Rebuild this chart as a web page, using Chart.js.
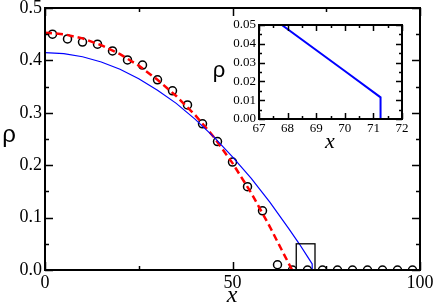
<!DOCTYPE html>
<html>
<head>
<meta charset="utf-8">
<script src="https://cdn.jsdelivr.net/npm/chart.js@4"></script>
<style>
  html, body { margin: 0; padding: 0; background: #fff; }
  #wrap { position: relative; width: 436px; height: 304px; }
  #main { position: absolute; left: 0; top: 0; }
  #inset { position: absolute; left: 200px; top: 10px; }
</style>
</head>
<body>
<div id="wrap">
  <canvas id="main" width="436" height="304"></canvas>
  <canvas id="inset" width="220" height="145"></canvas>
</div>
<script>
// simulation points (circles)
const xSim = [2, 6, 10, 14, 18, 22, 26, 30, 34, 38, 42, 46, 50, 54, 58, 62, 66, 70, 74, 78, 82, 86, 90, 94, 98];
const rhoSim = [0.450, 0.441, 0.435, 0.431, 0.418, 0.401, 0.391, 0.363, 0.342, 0.315, 0.279, 0.245, 0.206, 0.159, 0.113, 0.010, 0, 0, 0, 0, 0, 0, 0, 0, 0];

// red dashed curve
const xRed = [0, 5, 10, 15, 20, 25, 30, 35, 40, 45, 50, 55, 60, 63, 65.9];
const rhoRed = [0.453, 0.450, 0.442, 0.429, 0.412, 0.390, 0.363, 0.332, 0.296, 0.254, 0.204, 0.147, 0.082, 0.040, 0];

// blue curve (ends with a drop to zero)
const xBlue = [0, 5, 10, 15, 20, 25, 30, 35, 40, 45, 50, 55, 60, 65, 67.8, 70, 71.25, 71.25];
const rhoBlue = [0.415, 0.413, 0.407, 0.397, 0.383, 0.365, 0.343, 0.318, 0.288, 0.254, 0.216, 0.175, 0.129, 0.079, 0.050, 0.0255, 0.0115, 0];

// ticks
const mainXTicks = [0, 50, 100];
const mainXMinor = [25, 75];
const mainYTicks = [0, 0.1, 0.2, 0.3, 0.4, 0.5];
const mainYMinor = [0.05, 0.15, 0.25, 0.35, 0.45];
const insetXTicks = [67, 68, 69, 70, 71, 72];
const insetXMinor = [67.5, 68.5, 69.5, 70.5, 71.5];
const insetYTicks = [0, 0.01, 0.02, 0.03, 0.04, 0.05];
const insetYMinor = [0.005, 0.015, 0.025, 0.035, 0.045];

// zoom box shown on main plot
const boxX = [67, 72];
const boxY = [0, 0.05];

const pts = (xs, ys) => xs.map((x, i) => ({ x, y: ys[i] }));
const SERIF = "'Liberation Serif', 'DejaVu Serif', serif";
const SANS = "'Liberation Sans', Arial, sans-serif";

function frameTicks(xMaj, xMin, yMaj, yMin, major, minor) {
  return {
    id: "frameTicks",
    afterDatasetsDraw(chart) {
      const { ctx, chartArea: a, scales: { x, y } } = chart;
      ctx.save();
      ctx.strokeStyle = "#000";
      ctx.lineWidth = 2;
      ctx.strokeRect(a.left, a.top, a.right - a.left, a.bottom - a.top);
      ctx.lineWidth = 1.5;
      ctx.beginPath();
      const vx = (v, len) => {
        const px = Math.round(x.getPixelForValue(v)) + 0.5;
        ctx.moveTo(px, a.bottom); ctx.lineTo(px, a.bottom - len);
        ctx.moveTo(px, a.top); ctx.lineTo(px, a.top + len);
      };
      const vy = (v, len) => {
        const py = Math.round(y.getPixelForValue(v)) + 0.5;
        ctx.moveTo(a.left, py); ctx.lineTo(a.left + len, py);
        ctx.moveTo(a.right, py); ctx.lineTo(a.right - len, py);
      };
      xMaj.forEach(v => vx(v, major));
      xMin.forEach(v => vx(v, minor));
      yMaj.forEach(v => vy(v, major));
      yMin.forEach(v => vy(v, minor));
      ctx.stroke();
      ctx.restore();
    }
  };
}

function titles(list) {
  return {
    id: "titles",
    afterDraw(chart) {
      const ctx = chart.ctx;
      ctx.save();
      ctx.fillStyle = "#000";
      ctx.textAlign = "center";
      ctx.textBaseline = "alphabetic";
      list.forEach(t => {
        ctx.font = t.font;
        ctx.fillText(t.text, t.x, t.y);
      });
      ctx.restore();
    }
  };
}

const zoomBox = {
  id: "zoomBox",
  afterDatasetsDraw(chart) {
    const { ctx, scales: { x, y } } = chart;
    const x0 = x.getPixelForValue(boxX[0]), x1 = x.getPixelForValue(boxX[1]);
    const y0 = y.getPixelForValue(boxY[0]), y1 = y.getPixelForValue(boxY[1]);
    ctx.save();
    ctx.strokeStyle = "#000";
    ctx.lineWidth = 1.3;
    ctx.strokeRect(x0, y1, x1 - x0, y0 - y1);
    ctx.restore();
  }
};

function scaleCfg(min, max, ticks, fmt, fontSize, size, axis) {
  return {
    type: "linear", min, max,
    grid: { display: false, drawTicks: false },
    border: { display: false },
    afterBuildTicks: s => { s.ticks = ticks.map(v => ({ value: v })); },
    afterFit: s => {
      if (axis === "x") s.height = size; else s.width = size;
      s.paddingTop = 0; s.paddingBottom = 0; s.paddingLeft = 0; s.paddingRight = 0;
    },
    ticks: {
      color: "#000",
      font: { family: SERIF, size: fontSize },
      padding: axis === "x" ? 2 : 3,
      maxRotation: 0,
      autoSkip: false,
      callback: fmt
    }
  };
}

Chart.defaults.animation = false;
Chart.defaults.font.family = SERIF;

new Chart(document.getElementById("main"), {
  type: "scatter",
  data: {
    datasets: [
      {
        data: pts(xBlue, rhoBlue), showLine: true, borderColor: "#0000ff",
        borderWidth: 1.2, pointRadius: 0, fill: false
      },
      {
        data: pts(xRed, rhoRed), showLine: true, borderColor: "#ff0000",
        borderWidth: 2.5, borderDash: [7, 4], pointRadius: 0, fill: false
      },
      {
        data: pts(xSim, rhoSim), showLine: false, borderColor: "#000",
        backgroundColor: "rgba(0,0,0,0)", borderWidth: 1.5, pointRadius: 4
      }
    ]
  },
  options: {
    responsive: false, devicePixelRatio: 1,
    layout: { padding: { left: 0, top: 8, right: 16, bottom: 0 } },
    plugins: { legend: { display: false }, tooltip: { enabled: false } },
    scales: {
      x: scaleCfg(0, 100, mainXTicks, v => String(v), 18, 34, "x"),
      y: scaleCfg(0, 0.5, mainYTicks, v => v.toFixed(1), 18, 45, "y")
    }
  },
  plugins: [
    frameTicks(mainXTicks, mainXMinor, mainYTicks, mainYMinor, 8, 4),
    zoomBox,
    titles([
      { text: "ρ", x: 9, y: 142, font: `24px ${SANS}` },
      { text: "x", x: 232, y: 302, font: `italic 24px ${SERIF}` }
    ])
  ]
});

new Chart(document.getElementById("inset"), {
  type: "scatter",
  data: {
    datasets: [
      {
        data: pts(xBlue, rhoBlue), showLine: true, borderColor: "#0000ff",
        borderWidth: 2, pointRadius: 0, fill: false
      }
    ]
  },
  options: {
    responsive: false, devicePixelRatio: 1,
    layout: { padding: { left: 0, top: 15, right: 18, bottom: 0 } },
    plugins: { legend: { display: false }, tooltip: { enabled: false } },
    scales: {
      x: scaleCfg(67, 72, insetXTicks, v => String(v), 13, 36, "x"),
      y: scaleCfg(0, 0.05, insetYTicks, v => v.toFixed(2), 13, 59, "y")
    }
  },
  plugins: [
    frameTicks(insetXTicks, insetXMinor, insetYTicks, insetYMinor, 6, 3),
    titles([
      { text: "ρ", x: 19, y: 67, font: `22px ${SANS}` },
      { text: "x", x: 130, y: 138, font: `italic 22px ${SERIF}` }
    ])
  ]
});
</script>
</body>
</html>
